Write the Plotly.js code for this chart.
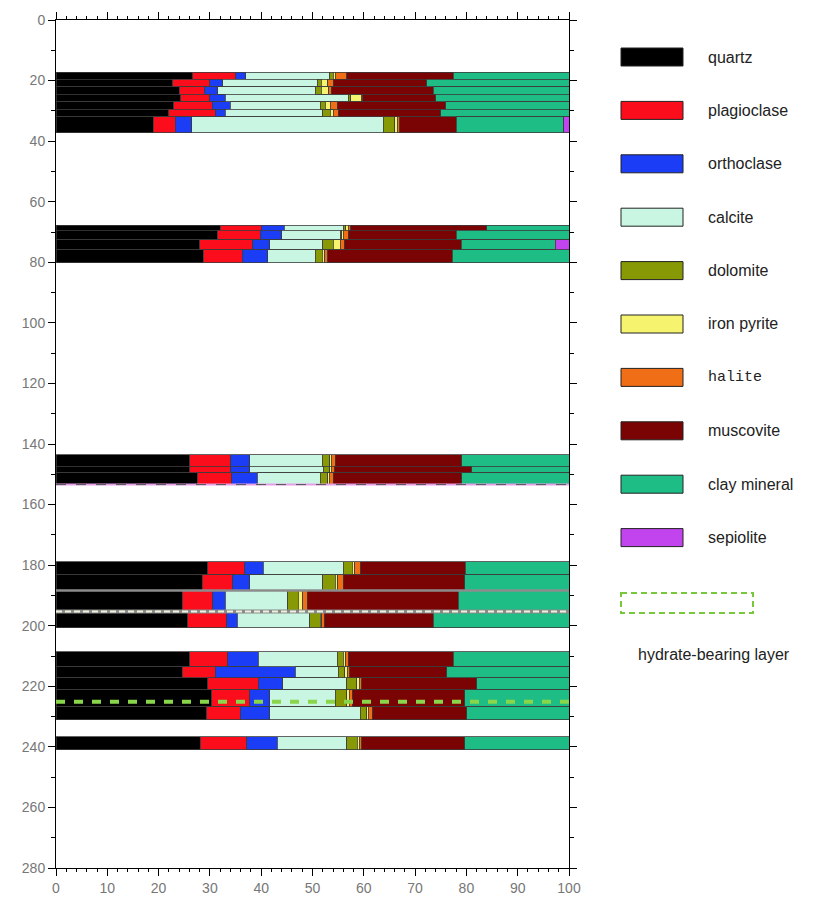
<!DOCTYPE html>
<html>
<head>
<meta charset="utf-8">
<script src="https://cdn.plot.ly/plotly-3.0.1.min.js"></script>
<style>html,body{margin:0;padding:0;background:#fff;}#chart{width:837px;height:904px;}</style>
</head>
<body>
<div id="chart"></div>
<script>
// Sample depths (centre of each bar) and bar thickness (m)
const depthCentre = [18.35, 20.75, 23.25, 25.75, 28.25, 30.75, 34.65,
                     68.6, 71.05, 74.25, 78.05,
                     145.45, 148.4, 151.45,
                     181.05, 185.8, 191.85, 198.0,
                     211.05, 215.35, 219.15, 223.9, 228.85,
                     238.8];
const depthThick  = [2.3, 2.5, 2.5, 2.5, 2.5, 2.5, 5.3,
                     1.8, 3.1, 3.3, 4.3,
                     3.7, 2.2, 3.9,
                     4.3, 5.2, 6.9, 5.4,
                     4.9, 3.7, 3.9, 5.6, 4.3,
                     4.4];

const minerals = ["quartz", "plagioclase", "orthoclase", "calcite", "dolomite",
                  "iron pyrite", "halite", "muscovite", "clay mineral", "sepiolite"];
const mineralColors = ["#000000", "#fb0d1c", "#1b3df5", "#c8f6e3", "#879a05",
                       "#f6f46e", "#f06e16", "#7a0303", "#1ebd86", "#c244ee"];

// Mineral contents (%) for each sample
const quartz      = [26.7, 22.8, 24.0, 24.3, 23.0, 22.0, 19.0, 32.0, 31.4, 28.0, 28.7, 26.1, 26.1, 27.5, 29.6, 28.5, 24.6, 25.7, 26.1, 24.6, 29.6, 30.4, 29.4, 28.1];
const plagioclase = [8.3, 7.2, 5.0, 5.7, 7.5, 9.0, 4.2, 8.0, 8.4, 10.4, 7.6, 8.0, 8.0, 6.8, 7.2, 6.0, 6.0, 7.6, 7.4, 6.4, 9.8, 7.4, 6.5, 9.1];
const orthoclase  = [2.0, 2.5, 2.5, 3.0, 3.5, 2.0, 3.3, 4.5, 4.2, 3.3, 5.0, 3.7, 3.7, 4.9, 3.6, 3.3, 2.4, 2.0, 5.9, 15.6, 4.8, 3.9, 5.8, 5.9];
const calcite     = [16.4, 18.4, 19.0, 24.0, 17.5, 19.0, 37.3, 11.5, 11.4, 10.3, 9.2, 14.1, 14.3, 12.3, 15.6, 14.2, 12.2, 14.2, 15.4, 8.4, 12.5, 12.7, 17.6, 13.6];
const dolomite    = [0.6, 0.8, 1.2, 0.5, 1.0, 1.5, 2.2, 0.5, 0.3, 2.0, 1.4, 1.5, 1.3, 1.5, 1.7, 2.4, 2.0, 2.0, 1.2, 1.3, 1.9, 2.3, 1.3, 2.0];
const ironPyrite  = [0.4, 1.3, 1.5, 2.0, 1.0, 0.5, 0.5, 0.5, 0.3, 1.4, 0.5, 0.3, 0.3, 0.3, 0.5, 0.5, 0.9, 0.3, 0.5, 0.5, 0.5, 0.5, 0.3, 0.4];
const halite      = [2.3, 1.0, 0.5, 0.3, 1.3, 1.0, 0.5, 0.5, 1.0, 0.8, 0.6, 0.7, 0.5, 0.7, 1.1, 1.1, 0.9, 0.5, 0.5, 0.5, 0.5, 0.5, 0.7, 0.5];
const muscovite   = [20.7, 18.3, 19.8, 14.2, 21.2, 20.0, 11.0, 26.5, 21.0, 22.8, 24.2, 24.7, 26.8, 25.1, 20.5, 23.7, 29.4, 21.2, 20.4, 18.9, 22.4, 22.0, 18.5, 20.1];
const clayMineral = [22.6, 27.7, 26.5, 26.0, 24.0, 25.0, 21.0, 16.0, 22.0, 18.3, 22.8, 20.9, 19.0, 20.9, 20.2, 20.3, 21.6, 26.5, 22.6, 23.8, 18.0, 20.3, 19.9, 20.3];
const sepiolite   = [0, 0, 0, 0, 0, 0, 1.0, 0, 0, 2.7, 0, 0, 0, 0, 0, 0, 0, 0, 0, 0, 0, 0, 0, 0];

const seriesValues = [quartz, plagioclase, orthoclase, calcite, dolomite,
                      ironPyrite, halite, muscovite, clayMineral, sepiolite];

// Marker lines across the columns
const hydrateDepths = [225.1];
const greyLineDepths = [188.4];
const paleDashDepths = [195.3];
const pinkDashDepths = [153.4];

const yTicks = [0, 20, 40, 60, 80, 100, 120, 140, 160, 180, 200, 220, 240, 260, 280];
const xTicks = [0, 10, 20, 30, 40, 50, 60, 70, 80, 90, 100];

const traces = minerals.map((name, i) => ({
  type: "bar",
  orientation: "h",
  name: name,
  y: depthCentre,
  x: seriesValues[i],
  width: depthThick,
  marker: { color: mineralColors[i], line: { color: "#3c3c3c", width: 0.8 } },
  hoverinfo: "name+x+y"
}));

const shapes = [];
const annotations = [];
greyLineDepths.forEach(d => shapes.push({type: "line", xref: "x", yref: "y", x0: 0, x1: 100, y0: d, y1: d,
  line: {color: "#8c8c8c", width: 2.5}}));
paleDashDepths.forEach(d => {
  shapes.push({type: "line", xref: "x", yref: "y", x0: 0, x1: 100, y0: d, y1: d, line: {color: "#8a8a8a", width: 4}});
  shapes.push({type: "line", xref: "x", yref: "y", x0: 0, x1: 100, y0: d, y1: d, line: {color: "#eef3dc", width: 2, dash: "6px,3px"}});
});
pinkDashDepths.forEach(d => {
  shapes.push({type: "line", xref: "x", yref: "y", x0: 0, x1: 100, y0: d, y1: d, line: {color: "#e6a0e8", width: 2}});
  shapes.push({type: "line", xref: "x", yref: "y", x0: 0, x1: 100, y0: d, y1: d, line: {color: "#555555", width: 1, dash: "10px,10px"}});
});
hydrateDepths.forEach(d => shapes.push({type: "line", xref: "x", yref: "y", x0: 0, x1: 100, y0: d, y1: d,
  line: {color: "#8ad64a", width: 4, dash: "9px,9px"}}));

// Custom legend on the right (paper coordinates computed from pixel positions)
const W = 837, H = 904, mL = 56, mR = 268, mT = 20, mB = 36;
const pw = W - mL - mR, ph = H - mT - mB;
const px = x => (x - mL) / pw;
const py = y => 1 - (y - mT) / ph;
minerals.forEach((name, i) => {
  const cy = 57 + i * 53.4;
  shapes.push({type: "rect", xref: "paper", yref: "paper", x0: px(621), x1: px(683), y0: py(cy - 9), y1: py(cy + 9),
    fillcolor: mineralColors[i], line: {color: "#222", width: 1}});
  annotations.push({xref: "paper", yref: "paper", x: px(706), y: py(cy), xanchor: "left", yanchor: "middle",
    text: name, showarrow: false,
    font: name === "halite" ? {family: "Liberation Mono, DejaVu Sans Mono, monospace", size: 15, color: "#222"}
                            : {family: "Liberation Sans, Arial, sans-serif", size: 16, color: "#222"}});
});
shapes.push({type: "rect", xref: "paper", yref: "paper", x0: px(621), x1: px(753), y0: py(593), y1: py(613),
  line: {color: "#78c83c", width: 2, dash: "6px,4px"}, fillcolor: "rgba(0,0,0,0)"});
annotations.push({xref: "paper", yref: "paper", x: px(636), y: py(654), xanchor: "left", yanchor: "middle",
  text: "hydrate-bearing layer", showarrow: false, font: {family: "Liberation Sans, Arial, sans-serif", size: 16, color: "#222"}});

const layout = {
  width: W, height: H,
  margin: {l: mL, r: mR, t: mT, b: mB},
  paper_bgcolor: "#ffffff", plot_bgcolor: "#ffffff",
  barmode: "stack",
  showlegend: false,
  xaxis: {
    range: [0, 100], tickvals: xTicks, ticktext: xTicks.map(String),
    ticks: "outside", ticklen: 7, tickcolor: "#000", tickwidth: 1,
    minor: {dtick: 2, ticks: "outside", ticklen: 3, tickcolor: "#000"},
    showline: true, linecolor: "#000", linewidth: 1, mirror: "ticks",
    showgrid: false, zeroline: false,
    tickfont: {family: "Liberation Sans, Arial, sans-serif", size: 14, color: "#777"}
  },
  yaxis: {
    range: [280, 0], tickvals: yTicks, ticktext: yTicks.map(String),
    ticks: "outside", ticklen: 7, tickcolor: "#000", tickwidth: 1,
    minor: {dtick: 10, ticks: "outside", ticklen: 4, tickcolor: "#000"},
    showline: true, linecolor: "#000", linewidth: 1, mirror: "ticks",
    showgrid: false, zeroline: false,
    tickfont: {family: "Liberation Sans, Arial, sans-serif", size: 14, color: "#777"}
  },
  shapes: shapes,
  annotations: annotations
};

Plotly.newPlot("chart", traces, layout, {displayModeBar: false, staticPlot: true});
</script>
</body>
</html>
